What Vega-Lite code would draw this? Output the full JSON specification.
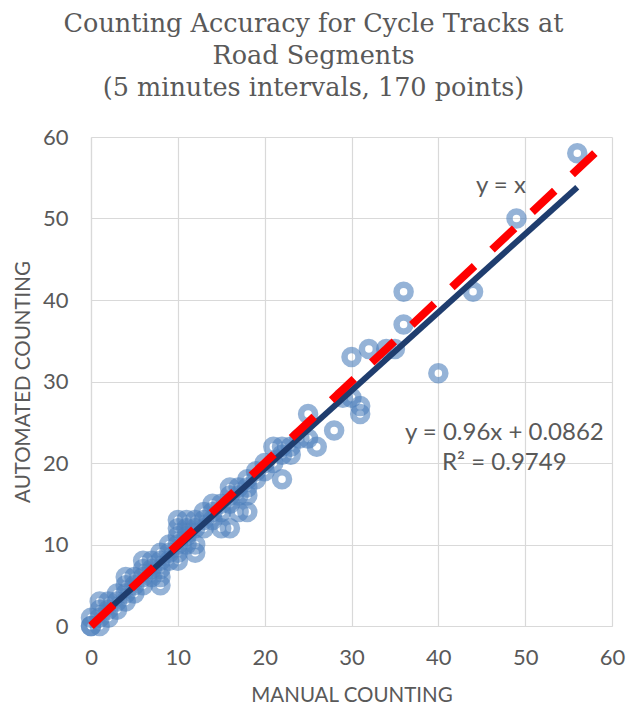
{
  "$schema": "https://vega.github.io/schema/vega-lite/v6.json",
  "autosize": "none",
  "padding": {"left": 91, "top": 137, "right": 14, "bottom": 78},
  "width": 521,
  "height": 489,
  "background": "white",
  "title": {
    "text": ["Counting Accuracy for Cycle Tracks at", "Road Segments", "(5 minutes intervals, 170 points)"],
    "font": "DejaVu Serif",
    "fontSize": 25.5,
    "fontWeight": "normal",
    "color": "#595959",
    "lineHeight": 32,
    "anchor": "middle",
    "frame": "group",
    "dx": -38,
    "offset": 24
  },
  "config": {
    "view": {"stroke": null},
    "axis": {
      "grid": true,
      "gridColor": "#D9D9D9",
      "gridWidth": 1.2,
      "domainColor": "#D9D9D9",
      "domainWidth": 1.2,
      "ticks": false,
      "labelFlush": false,
      "labelFont": "Lato",
      "labelFontSize": 22,
      "labelColor": "#595959",
      "titleFont": "Lato",
      "titleFontSize": 20.5,
      "titleFontWeight": "normal",
      "titleColor": "#595959"
    }
  },
  "datasets": {
    "pts": [
      {"manual": 0, "auto": 0}, {"manual": 0, "auto": 0}, {"manual": 0, "auto": 1}, {"manual": 1, "auto": 0},
      {"manual": 1, "auto": 1}, {"manual": 1, "auto": 2}, {"manual": 1, "auto": 3}, {"manual": 2, "auto": 1},
      {"manual": 2, "auto": 2}, {"manual": 2, "auto": 3}, {"manual": 3, "auto": 2}, {"manual": 3, "auto": 3},
      {"manual": 3, "auto": 4}, {"manual": 4, "auto": 3}, {"manual": 4, "auto": 4}, {"manual": 4, "auto": 5},
      {"manual": 4, "auto": 6}, {"manual": 5, "auto": 4}, {"manual": 5, "auto": 5}, {"manual": 5, "auto": 6},
      {"manual": 6, "auto": 5}, {"manual": 6, "auto": 6}, {"manual": 6, "auto": 7}, {"manual": 6, "auto": 8},
      {"manual": 7, "auto": 6}, {"manual": 7, "auto": 7}, {"manual": 7, "auto": 8}, {"manual": 8, "auto": 5},
      {"manual": 8, "auto": 6}, {"manual": 8, "auto": 7}, {"manual": 8, "auto": 8}, {"manual": 8, "auto": 9},
      {"manual": 9, "auto": 8}, {"manual": 9, "auto": 9}, {"manual": 9, "auto": 10}, {"manual": 10, "auto": 8},
      {"manual": 10, "auto": 9}, {"manual": 10, "auto": 10}, {"manual": 10, "auto": 11}, {"manual": 10, "auto": 12},
      {"manual": 10, "auto": 13}, {"manual": 11, "auto": 10}, {"manual": 11, "auto": 11}, {"manual": 11, "auto": 12},
      {"manual": 11, "auto": 13}, {"manual": 12, "auto": 9}, {"manual": 12, "auto": 10}, {"manual": 12, "auto": 12},
      {"manual": 12, "auto": 13}, {"manual": 13, "auto": 12}, {"manual": 13, "auto": 13}, {"manual": 13, "auto": 14},
      {"manual": 14, "auto": 13}, {"manual": 14, "auto": 14}, {"manual": 14, "auto": 15}, {"manual": 15, "auto": 12},
      {"manual": 15, "auto": 14}, {"manual": 15, "auto": 15}, {"manual": 16, "auto": 12}, {"manual": 16, "auto": 15},
      {"manual": 16, "auto": 16}, {"manual": 16, "auto": 17}, {"manual": 17, "auto": 14}, {"manual": 17, "auto": 16},
      {"manual": 17, "auto": 17}, {"manual": 18, "auto": 14}, {"manual": 18, "auto": 16}, {"manual": 18, "auto": 17},
      {"manual": 18, "auto": 18}, {"manual": 19, "auto": 18}, {"manual": 19, "auto": 19}, {"manual": 20, "auto": 19},
      {"manual": 20, "auto": 20}, {"manual": 21, "auto": 20}, {"manual": 21, "auto": 22}, {"manual": 22, "auto": 18},
      {"manual": 22, "auto": 21}, {"manual": 22, "auto": 22}, {"manual": 23, "auto": 21}, {"manual": 23, "auto": 22},
      {"manual": 24, "auto": 23}, {"manual": 25, "auto": 23}, {"manual": 25, "auto": 26}, {"manual": 26, "auto": 22},
      {"manual": 28, "auto": 24}, {"manual": 29, "auto": 28}, {"manual": 30, "auto": 28}, {"manual": 30, "auto": 33},
      {"manual": 31, "auto": 26}, {"manual": 31, "auto": 27}, {"manual": 32, "auto": 34}, {"manual": 34, "auto": 34},
      {"manual": 35, "auto": 34}, {"manual": 36, "auto": 37}, {"manual": 36, "auto": 41}, {"manual": 40, "auto": 31},
      {"manual": 44, "auto": 41}, {"manual": 49, "auto": 50}, {"manual": 56, "auto": 58}
    ],
    "trend": [
      {"manual": 0, "auto": 0.0862},
      {"manual": 56, "auto": 53.8462}
    ],
    "identity": [
      {"manual": 0, "auto": 0},
      {"manual": 59.5, "auto": 59.5}
    ],
    "labels": [
      {"manual": 47.2, "auto": 54, "label": "y = x"},
      {"manual": 47.6, "auto": 23.7, "label": "y = 0.96x + 0.0862"},
      {"manual": 47.6, "auto": 20.0, "label": "R² = 0.9749"}
    ]
  },
  "encoding": {
    "x": {"field": "manual", "type": "quantitative", "scale": {"domain": [0, 60], "nice": false},
          "axis": {"title": "MANUAL COUNTING", "values": [0, 10, 20, 30, 40, 50, 60], "labelPadding": 21, "titlePadding": 17}},
    "y": {"field": "auto", "type": "quantitative", "scale": {"domain": [0, 60], "nice": false},
          "axis": {"title": "AUTOMATED COUNTING", "values": [0, 10, 20, 30, 40, 50, 60], "labelPadding": 23, "titlePadding": 9}}
  },
  "layer": [
    {
      "data": {"name": "pts"},
      "mark": {"type": "point", "shape": "circle", "filled": false, "size": 196, "strokeWidth": 6.5, "color": "#4F81BD", "opacity": 0.6}
    },
    {
      "data": {"name": "trend"},
      "mark": {"type": "line", "color": "#1F3D6E", "strokeWidth": 6}
    },
    {
      "data": {"name": "identity"},
      "mark": {"type": "line", "color": "#FF0000", "strokeWidth": 8, "strokeDash": [31, 24]}
    },
    {
      "data": {"name": "labels"},
      "mark": {"type": "text", "font": "Lato", "fontSize": 24, "color": "#595959", "align": "center", "baseline": "middle"},
      "encoding": {"text": {"field": "label"}}
    }
  ]
}
